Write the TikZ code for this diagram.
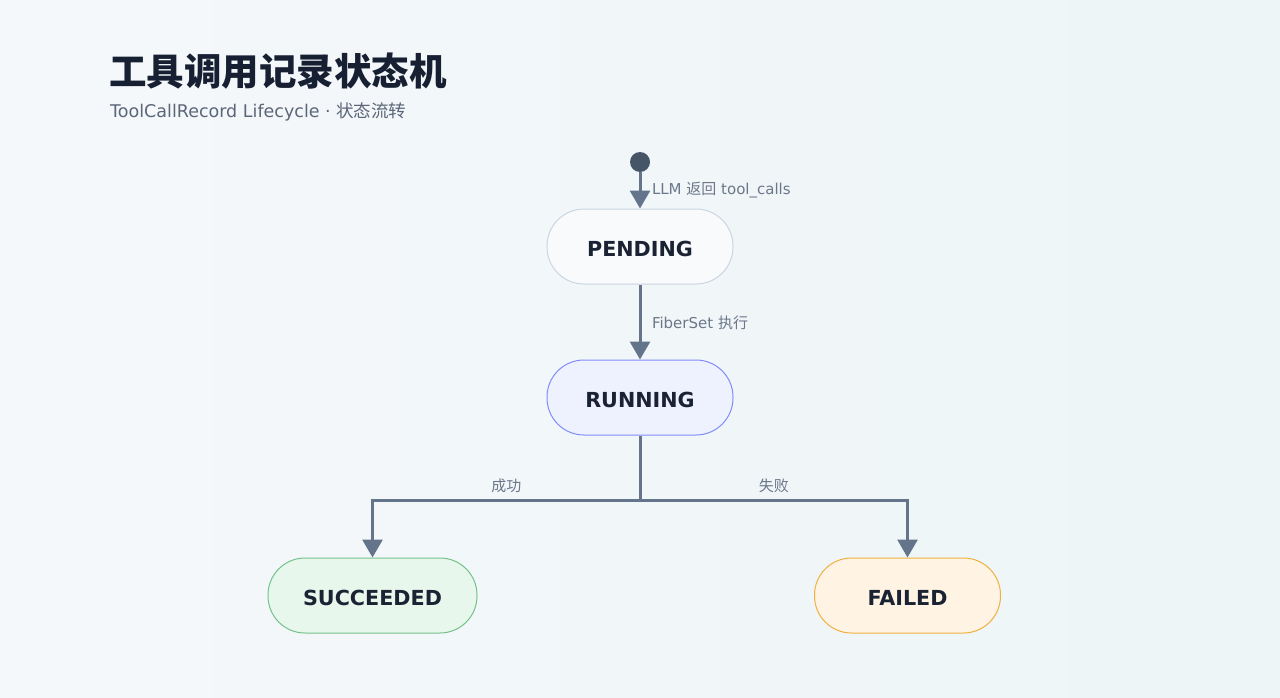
\documentclass[tikz,border=0pt]{standalone}
\usepackage{fontspec}
\setmainfont{DejaVu Sans}
\newfontfamily\cjk{Noto Sans CJK SC}
\usetikzlibrary{arrows.meta,shadings}
\definecolor{bgA}{HTML}{F5F8FB}
\definecolor{bgB}{HTML}{EDF5F6}
\definecolor{titlec}{HTML}{172033}
\definecolor{subc}{HTML}{5B6678}
\definecolor{lblc}{HTML}{6B778A}
\definecolor{arrc}{HTML}{64748B}
\definecolor{dotc}{HTML}{475569}
\definecolor{txtc}{HTML}{1A2233}
\definecolor{pendF}{HTML}{F8FAFC}
\definecolor{pendD}{HTML}{CBD5E1}
\definecolor{runF}{HTML}{EEF2FF}
\definecolor{runD}{HTML}{818CF8}
\definecolor{sucF}{HTML}{E8F7EC}
\definecolor{sucD}{HTML}{74C28A}
\definecolor{failF}{HTML}{FFF3E3}
\definecolor{failD}{HTML}{F0B040}
\tikzset{
  statebox/.style={draw, line width=1pt, rounded corners=37pt, minimum height=75pt,
    text=txtc, font=\fontsize{20.7}{24}\selectfont\bfseries, inner sep=0pt,
    text height=19pt, text depth=0pt},
  arr/.style={draw=arrc, line width=3pt, -{Triangle[length=18pt,width=20pt]}},
  plain/.style={draw=arrc, line width=3pt},
  lbl/.style={text=lblc, font=\fontsize{15}{18}\selectfont, inner sep=0pt},
  startdot/.style={circle, fill=dotc, minimum size=20pt, inner sep=0pt},
}
\begin{document}
\begin{tikzpicture}[x=1pt,y=-1pt]
\useasboundingbox (0,0) rectangle (1280,698);
\shade[shading=axis, shading angle=120, left color=bgA, right color=bgB] (0,0) rectangle (1280,698);

\node[anchor=west, text=titlec, font=\fontsize{37.5}{44}\selectfont\bfseries\cjk, inner sep=0pt] (title) at (109,71) {工具调用记录状态机};
\node[anchor=west, text=subc, font=\fontsize{17.5}{21}\selectfont, inner sep=0pt] (sub) at (110,111.5) {ToolCallRecord Lifecycle · {\cjk 状态流转}};

\node[startdot] (start) at (640,162) {};
\node[statebox, fill=pendF, draw=pendD, minimum width=186pt] (pending) at (640,246.5) {PENDING};
\node[statebox, fill=runF, draw=runD, minimum width=186pt] (running) at (640,397.5) {RUNNING};
\node[statebox, fill=sucF, draw=sucD, minimum width=209pt] (succ) at (372.5,595.5) {SUCCEEDED};
\node[statebox, fill=failF, draw=failD, minimum width=186pt] (failed) at (907.5,595.5) {FAILED};
\coordinate (split) at (640,500);

\draw[arr] (start) -- node[lbl, anchor=west, xshift=10.5pt] {LLM {\cjk 返回} tool\_calls} (pending);
\draw[arr] (pending) -- node[lbl, anchor=west, xshift=10.5pt, yshift=-1pt] {FiberSet {\cjk 执行}} (running);
\draw[plain] (running) -- (split);
\draw[arr] (split) -| node[lbl, pos=0.25, anchor=south, yshift=6pt] {\cjk 成功} (succ);
\draw[arr] (split) -| node[lbl, pos=0.25, anchor=south, yshift=6pt] {\cjk 失败} (failed);
\end{tikzpicture}
\end{document}
